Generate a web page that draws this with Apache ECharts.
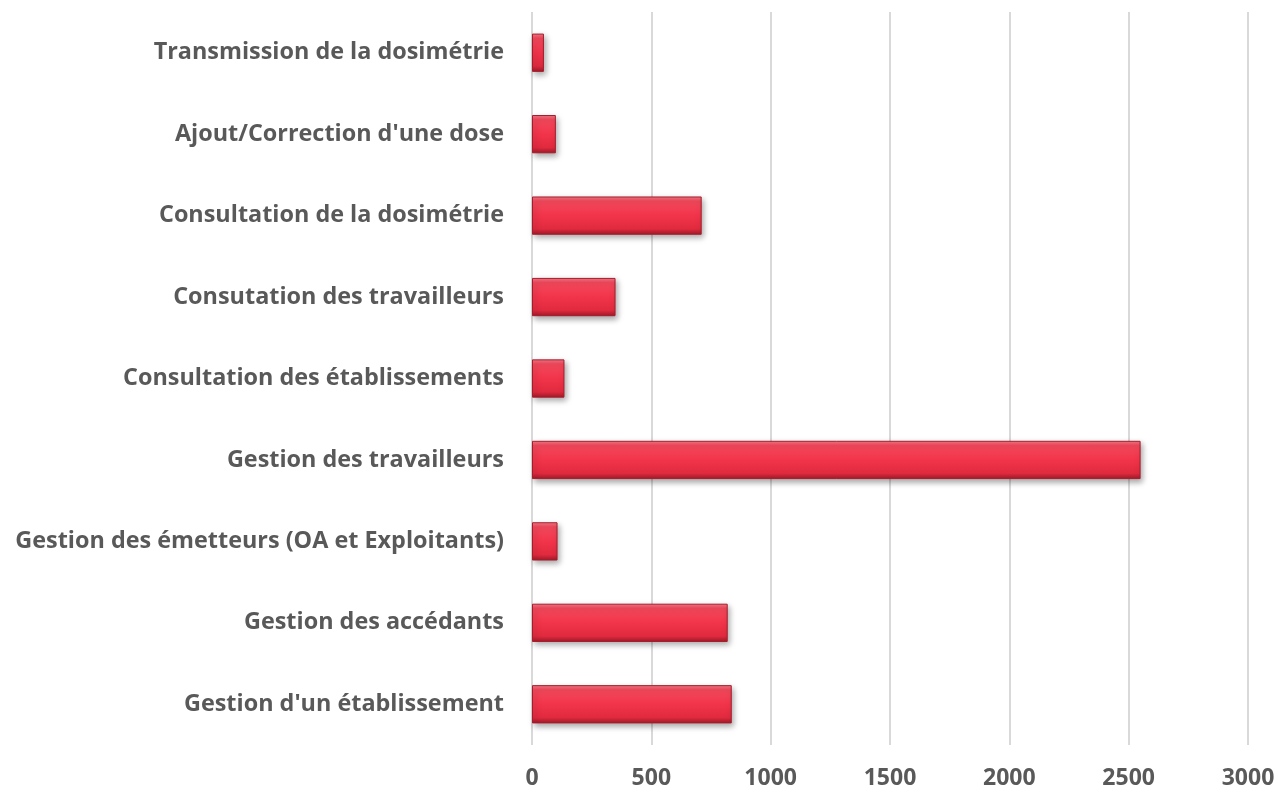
<!DOCTYPE html>
<html><head><meta charset="utf-8">
<script src="https://cdn.jsdelivr.net/npm/echarts@6/dist/echarts.min.js"></script>
<style>html,body{margin:0;padding:0;background:#fff}#c{width:1278px;height:793px}</style>
</head><body><div id="c"></div>
<script>
const categories = [
  "Gestion d'un établissement",
  "Gestion des accédants",
  "Gestion des émetteurs (OA et Exploitants)",
  "Gestion des travailleurs",
  "Consultation des établissements",
  "Consutation des travailleurs",
  "Consultation de la dosimétrie",
  "Ajout/Correction d'une dose",
  "Transmission de la dosimétrie"
];
const values = [837, 820, 107, 2550, 136, 350, 711, 100, 50];
const xTicks = { min: 0, max: 3000, interval: 500 };

const chart = echarts.init(document.getElementById('c'));
chart.setOption({
  animation: false,
  grid: { left: 532, right: 30, top: 12, bottom: 48, containLabel: false },
  xAxis: {
    type: 'value', min: xTicks.min, max: xTicks.max, interval: xTicks.interval,
    axisLine: { show: false }, axisTick: { show: false },
    splitLine: { lineStyle: { color: '#d9d9d9', width: 2 } },
    axisLabel: { color: '#595959', fontSize: 23, fontWeight: 'bold', fontFamily: 'Open Sans', margin: 22,
      formatter: v => String(v) }
  },
  yAxis: {
    type: 'category', data: categories,
    axisLine: { show: false }, axisTick: { show: false },
    axisLabel: { color: '#595959', fontSize: 23.4, fontWeight: 'bold', fontFamily: 'Open Sans', margin: 28 }
  },
  series: [{
    type: 'bar', data: values, barCategoryGap: '53%',
    itemStyle: {
      color: new echarts.graphic.LinearGradient(0, 0, 0, 1, [
        { offset: 0, color: '#f47a88' },
        { offset: 0.12, color: '#f2495c' },
        { offset: 0.5, color: '#f2344a' },
        { offset: 0.85, color: '#e02a3e' },
        { offset: 1, color: '#9e1a28' }
      ]),
      borderColor: '#a51d2c', borderWidth: 1,
      shadowColor: 'rgba(0,0,0,0.35)', shadowBlur: 6, shadowOffsetX: 2, shadowOffsetY: 3
    }
  }]
});
</script></body></html>
